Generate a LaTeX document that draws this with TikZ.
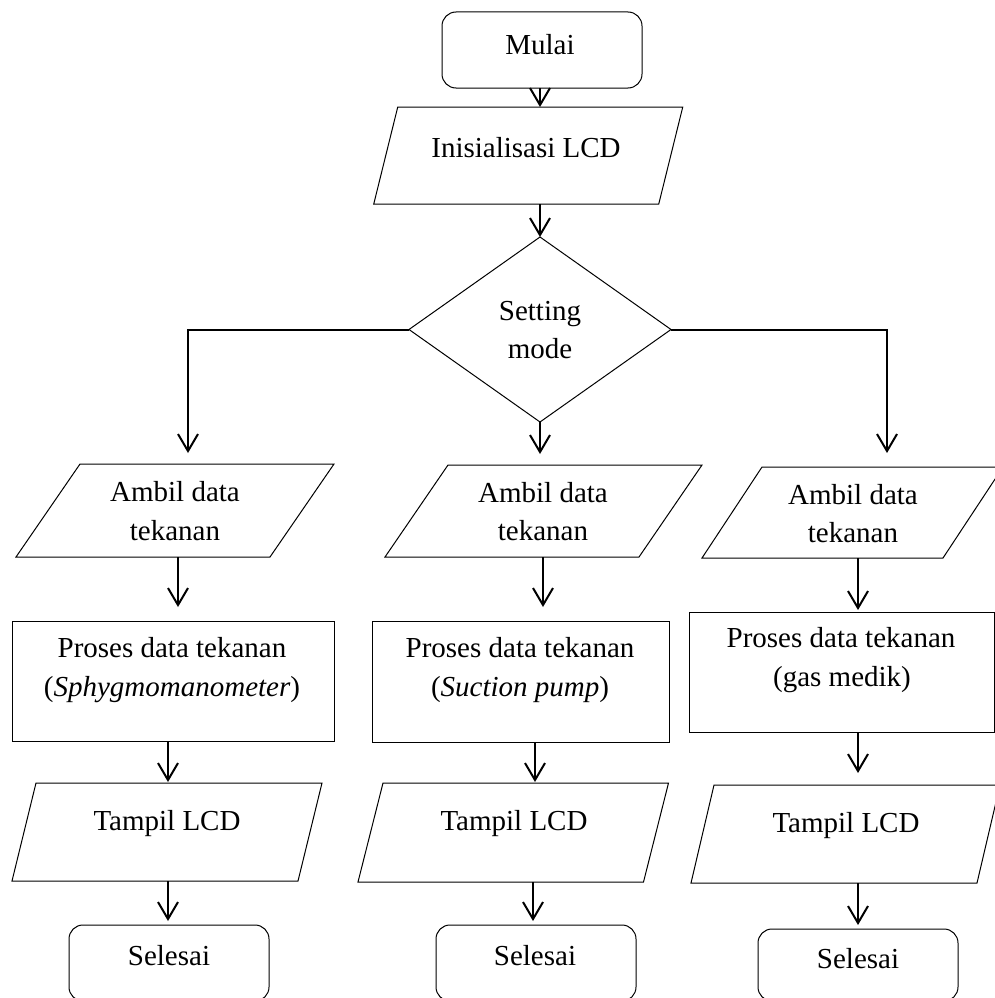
\documentclass[tikz,border=0pt]{standalone}
\usepackage{fontspec}
\setmainfont{Liberation Serif}
\usetikzlibrary{arrows.meta}
\tikzset{
  frame/.style={rectangle, inner sep=0pt, outer sep=0pt},
  box/.style={frame, draw, line width=1pt},
  rbox/.style={box, rounded corners=14pt},
  outl/.style={line width=1pt, line join=miter},
  arr/.style={line width=2pt, -{Straight Barb[length=17pt,width=20pt,line width=2pt]}},
  txt/.style={inner sep=0pt, anchor=base, font=\fontsize{29}{38}\selectfont}
}
\newcommand\drawpara[2]{%
  \draw[outl] ([xshift=#2/2]#1.north west) -- ([xshift=#2/2]#1.north east)
    -- ([xshift=-#2/2]#1.south east) -- ([xshift=-#2/2]#1.south west) -- cycle;}
\begin{document}
\begin{tikzpicture}[x=1pt,y=-1pt]
\clip (0,0) rectangle (995,998);
\fill[white] (0,0) rectangle (995,998);
% shapes
\node[rbox, minimum width=200pt, minimum height=76pt] (start) at (542,50) {};
\node[frame, minimum width=285pt, minimum height=97pt] (ini) at (528.25,155.5) {};
\drawpara{ini}{24pt}
\node[frame, minimum width=262pt, minimum height=185pt] (dec) at (540,329.5) {};
\draw[outl] (dec.north) -- (dec.east) -- (dec.south) -- (dec.west) -- cycle;

\node[frame, minimum width=254pt, minimum height=93pt] (ambL) at (175,510.5) {};
\drawpara{ambL}{64pt}
\node[frame, minimum width=254pt, minimum height=92pt] (ambM) at (543.5,511) {};
\drawpara{ambM}{63pt}
\node[frame, minimum width=241pt, minimum height=91pt] (ambR) at (852.5,512.5) {};
\drawpara{ambR}{60pt}

\node[box, minimum width=322pt, minimum height=120pt] (proL) at (173,681) {};
\node[box, minimum width=297pt, minimum height=121pt] (proM) at (520.5,681.5) {};
\node[box, minimum width=305pt, minimum height=120pt] (proR) at (841.5,672) {};

\node[frame, minimum width=286pt, minimum height=98pt] (tamL) at (167,832) {};
\drawpara{tamL}{24pt}
\node[frame, minimum width=285.5pt, minimum height=99pt] (tamM) at (513.25,832.5) {};
\drawpara{tamM}{25pt}
\node[frame, minimum width=286pt, minimum height=98pt] (tamR) at (845.5,834) {};
\drawpara{tamR}{23pt}

\node[rbox, minimum width=200pt, minimum height=76pt] (endL) at (169,963) {};
\node[rbox, minimum width=200pt, minimum height=76pt] (endM) at (536,963) {};
\node[rbox, minimum width=200pt, minimum height=72pt] (endR) at (858,965) {};

% texts
\node[txt] (tstart) at (540,55) {Mulai};
\node[txt] (tini) at (526,157) {Inisialisasi LCD};
\node[txt] (tdec1) at (540,320) {Setting};
\node[txt] (tdec2) at (540,358) {mode};
\node[txt] (tambL1) at (175,501) {Ambil data};
\node[txt] (tambL2) at (175,540) {tekanan};
\node[txt] (tambM1) at (543,502) {Ambil data};
\node[txt] (tambM2) at (543,540) {tekanan};
\node[txt] (tambR1) at (853,504) {Ambil data};
\node[txt] (tambR2) at (853,542) {tekanan};
\node[txt] (tproL1) at (172,657) {Proses data tekanan};
\node[txt] (tproL2) at (172,696) {(\textit{Sphygmomanometer})};
\node[txt] (tproM1) at (520,657) {Proses data tekanan};
\node[txt] (tproM2) at (520,696) {(\textit{Suction pump})};
\node[txt] (tproR1) at (841,647) {Proses data tekanan};
\node[txt] (tproR2) at (842,686) {(gas medik)};
\node[txt] (ttamL) at (167,830) {Tampil LCD};
\node[txt] (ttamM) at (514,830) {Tampil LCD};
\node[txt] (ttamR) at (846,832) {Tampil LCD};
\node[txt] (tendL) at (169,965) {Selesai};
\node[txt] (tendM) at (535,965) {Selesai};
\node[txt] (tendR) at (858,968) {Selesai};

% connectors
\draw[arr] ([xshift=-2pt]start.south) -- ([xshift=11.75pt]ini.north);
\draw[arr] ([xshift=11.75pt]ini.south) -- (dec.north);
\draw[arr] (dec.west) -| ([xshift=13pt,yshift=11pt]ambL.north);
\draw[arr] (dec.south) -- ([xshift=-3.5pt,yshift=11pt]ambM.north);
\draw[arr] (dec.east) -| ([xshift=34.5pt,yshift=14pt]ambR.north);
\draw[arr] ([xshift=3pt]ambL.south) -- ([xshift=5pt,yshift=14pt]proL.north);
\draw[arr] ([xshift=-0.5pt]ambM.south) -- ([xshift=22.5pt,yshift=14pt]proM.north);
\draw[arr] ([xshift=5.5pt]ambR.south) -- ([xshift=16.5pt,yshift=2pt]proR.north);
\draw[arr] ([xshift=-5pt]proL.south) -- ([xshift=1pt,yshift=1pt]tamL.north);
\draw[arr] ([xshift=14.5pt]proM.south) -- ([xshift=21.75pt,yshift=1pt]tamM.north);
\draw[arr] ([xshift=16.5pt]proR.south) -- ([xshift=12.5pt,yshift=12pt]tamR.north);
\draw[arr] ([xshift=1pt]tamL.south) -- ([xshift=-1pt,yshift=4pt]endL.north);
\draw[arr] ([xshift=19.75pt]tamM.south) -- ([xshift=-3pt,yshift=4pt]endM.north);
\draw[arr] ([xshift=12.5pt]tamR.south) -- ([yshift=4pt]endR.north);
\end{tikzpicture}
\end{document}
